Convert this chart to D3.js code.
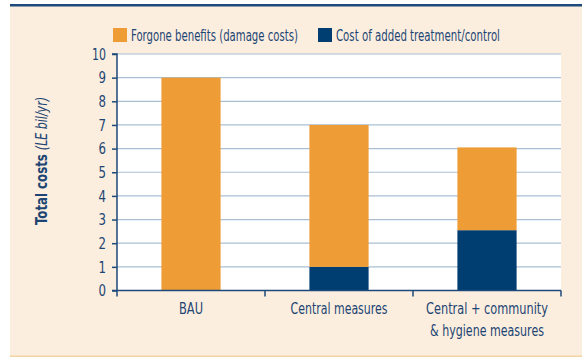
<!DOCTYPE html>
<html>
<head>
<meta charset="utf-8">
<script src="https://cdn.jsdelivr.net/npm/d3@7"></script>
<style>
  html, body { margin: 0; padding: 0; background: #ffffff; }
  svg { display: block; }
  text { font-family: "DejaVu Sans Condensed", "Liberation Sans Narrow", sans-serif; font-stretch: condensed; fill: #1d4573; }
</style>
</head>
<body>
<svg id="chart" width="582" height="358"></svg>
<script>
// Scenario categories and stacked cost components (LE billion per year)
const categories = ["BAU", "Central measures", "Central + community\n& hygiene measures"];
const treatmentCost = [0, 1.0, 2.55];      // cost of added treatment/control
const forgoneBenefits = [9.0, 6.0, 3.5];   // forgone benefits (damage costs)
const yTicks = [0, 1, 2, 3, 4, 5, 6, 7, 8, 9, 10];
const seriesNames = ["Forgone benefits (damage costs)", "Cost of added treatment/control"];

const colors = { forgone: "#ed9c36", treatment: "#003d70" };

const svg = d3.select("#chart");
const W = 582;

// Squeeze a text element horizontally to a set width (narrow-face look).
// The text must sit at the origin of its own group, which holds the position.
function squeeze(textSel, w) {
  const n = textSel.node().getComputedTextLength();
  if (n > 0) textSel.attr("transform", `scale(${w / n},1)`);
}

// Panel background with top rule and bottom rule
svg.append("rect").attr("x", 10).attr("y", 6).attr("width", W - 10).attr("height", 350).attr("fill", "#fbeedf");
svg.append("rect").attr("x", 10).attr("y", 4).attr("width", W - 10).attr("height", 2.5).attr("fill", "#1c4a7c");
svg.append("rect").attr("x", 10).attr("y", 355.5).attr("width", W - 10).attr("height", 1.5).attr("fill", "#f3d3a6");

const plot = { left: 117, right: 561, top: 54, bottom: 290.5 };

const x = d3.scaleBand().domain(categories).range([plot.left, plot.right]).paddingInner(0.6).paddingOuter(0.3);
const y = d3.scaleLinear().domain([0, 10]).range([plot.bottom, plot.top]);

// White plotting area
svg.append("rect").attr("x", plot.left).attr("y", plot.top).attr("width", plot.right - plot.left)
  .attr("height", plot.bottom - plot.top).attr("fill", "#ffffff");

// Horizontal gridlines
svg.append("g").selectAll("line").data(yTicks.filter(d => d > 0)).join("line")
  .attr("x1", plot.left).attr("x2", plot.right)
  .attr("y1", d => y(d)).attr("y2", d => y(d))
  .attr("stroke", "#a9bfd4").attr("stroke-width", 1.2);

// Stacked bars
const stackData = categories.map((c, i) => ({ cat: c, treatment: treatmentCost[i], forgone: forgoneBenefits[i] }));
const stacked = d3.stack().keys(["treatment", "forgone"])(stackData);
svg.append("g").selectAll("g").data(stacked).join("g")
  .attr("fill", s => colors[s.key])
  .selectAll("rect").data(s => s.filter(d => d[1] > d[0])).join("rect")
  .attr("x", d => x(d.data.cat))
  .attr("width", x.bandwidth())
  .attr("y", d => y(d[1]))
  .attr("height", d => y(d[0]) - y(d[1]));

// Y axis
const yAxis = svg.append("g").attr("transform", `translate(${plot.left},0)`)
  .call(d3.axisLeft(y).tickValues(yTicks).tickSize(5).tickPadding(6).tickFormat(d3.format("d")));
yAxis.select(".domain").attr("stroke", "#1d4a7a").attr("stroke-width", 1.5).attr("d", `M-5,${plot.top}H0V${plot.bottom}H-5`);
yAxis.selectAll(".tick line").attr("stroke", "#1d4a7a").attr("stroke-width", 1.5);
yAxis.selectAll(".tick text").attr("font-size", 16.5).style("fill", "#1d4573")
  .attr("x", null).attr("dy", "0.32em")
  .each(function (d) {
    // wrap each label in a group at the label anchor so it can be squeezed
    const t = d3.select(this);
    const g = d3.select(this.parentNode).append("g").attr("transform", "translate(-11,0)");
    g.node().appendChild(this);
    squeeze(t, d >= 10 ? 14 : 7.5);
  });

// X axis with ticks at band boundaries
const xAxisG = svg.append("g");
xAxisG.append("line").attr("x1", plot.left).attr("x2", plot.right).attr("y1", plot.bottom).attr("y2", plot.bottom)
  .attr("stroke", "#1d4a7a").attr("stroke-width", 1.5);
const step = x.step();
const boundaries = [plot.left].concat(categories.map(c => x(c) + x.bandwidth() + step * x.paddingInner() / 2));
boundaries[boundaries.length - 1] = plot.right;
xAxisG.selectAll(".bt").data(boundaries).join("line").attr("class", "bt")
  .attr("x1", d => d).attr("x2", d => d).attr("y1", plot.bottom).attr("y2", plot.bottom + 6)
  .attr("stroke", "#1d4a7a").attr("stroke-width", 1.5);

// Category labels (one text per line)
const lineWidths = { "BAU": 24, "Central measures": 97, "Central + community": 122, "& hygiene measures": 114 };
const labelLines = categories.flatMap(c => c.split("\n").map((line, i) => ({ cat: c, line, i })));
xAxisG.selectAll(".cl").data(labelLines).join("g").attr("class", "cl")
  .attr("transform", d => `translate(${x(d.cat) + x.bandwidth() / 2},${plot.bottom + 23 + d.i * 22})`)
  .append("text").attr("text-anchor", "middle").attr("font-size", 16).text(d => d.line)
  .each(function (d) { squeeze(d3.select(this), lineWidths[d.line]); });

// Y axis title
const ytG = svg.append("g").attr("transform", "translate(47,161) rotate(-90)");
const yt = ytG.append("text").attr("text-anchor", "middle").attr("font-size", 16);
yt.append("tspan").attr("font-weight", "bold").text("Total costs ");
yt.append("tspan").attr("font-style", "italic").attr("font-size", 15).text("(LE bil/yr)");
squeeze(yt, 128);

// Legend
const legendItems = [
  { name: seriesNames[0], color: colors.forgone, x: 113, w: 167 },
  { name: seriesNames[1], color: colors.treatment, x: 318, w: 164 }
];
const lg = svg.append("g").selectAll("g").data(legendItems).join("g")
  .attr("transform", d => `translate(${d.x},28)`);
lg.append("rect").attr("width", 14).attr("height", 14).attr("fill", d => d.color);
lg.append("g").attr("transform", "translate(18,12.5)")
  .append("text").attr("font-size", 16).text(d => d.name)
  .each(function (d) { squeeze(d3.select(this), d.w); });
</script>
</body>
</html>
